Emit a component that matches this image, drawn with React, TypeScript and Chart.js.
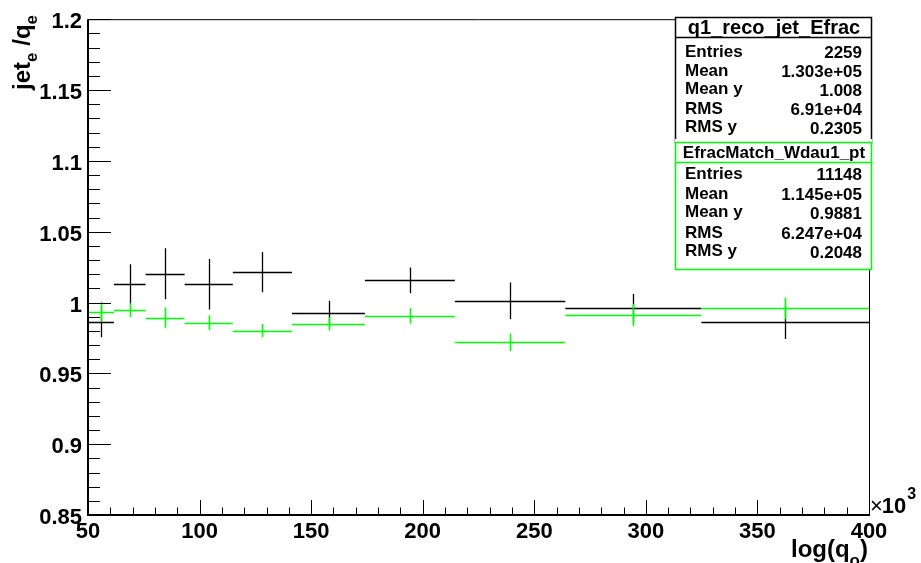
import React, { useEffect, useRef } from "react";
import { Chart, registerables } from "chart.js";

Chart.register(...registerables);

// ---- data ----
const binEdges = [50, 61.6, 75.8, 93.3, 114.9, 141.4, 174.1, 214.4, 263.9, 324.9, 400];
const binCenters = [55.8, 68.7, 84.6, 104.1, 128.2, 157.8, 194.3, 239.2, 294.4, 362.5];
const recoMean = [0.9865, 1.0129, 1.0203, 1.0129, 1.0215, 0.9928, 1.0157, 1.0012, 0.9958, 0.986];
const recoErr = [0.011, 0.0142, 0.018, 0.0179, 0.0142, 0.0084, 0.0091, 0.013, 0.0102, 0.0117];
const matchMean = [0.9935, 0.9947, 0.9893, 0.9858, 0.9802, 0.9849, 0.9905, 0.972, 0.9912, 0.9958];
const matchErr = [0.007, 0.0049, 0.0072, 0.0052, 0.0047, 0.0047, 0.0054, 0.0062, 0.008, 0.0077];

const xTickValues = [50, 100, 150, 200, 250, 300, 350, 400];
const xTickLabels = ["50", "100", "150", "200", "250", "300", "350", "400"];
const yTickValues = [0.85, 0.9, 0.95, 1, 1.05, 1.1, 1.15, 1.2];
const yTickLabels = ["0.85", "0.9", "0.95", "1", "1.05", "1.1", "1.15", "1.2"];

const statLabels = ["Entries", "Mean", "Mean y", "RMS", "RMS y"];
const recoName = "q1_reco_jet_Efrac";
const recoStats = ["2259", "1.303e+05", "1.008", "6.91e+04", "0.2305"];
const matchName = "EfracMatch_Wdau1_pt";
const matchStats = ["11148", "1.145e+05", "0.9881", "6.247e+04", "0.2048"];

const BLACK = "#000000";
const GREEN = "#00ff00";
const FONT = "'Liberation Sans', Arial, Helvetica, sans-serif";

const seriesErr = [recoErr, matchErr];

function drawCentered(ctx: CanvasRenderingContext2D, text: string, x: number, cy: number) {
  const m = ctx.measureText(text);
  const asc = m.actualBoundingBoxAscent;
  const desc = m.actualBoundingBoxDescent;
  ctx.fillText(text, x, cy + (asc - desc) / 2);
}

function drawStatsBox(
  ctx: CanvasRenderingContext2D,
  x0: number, y0: number, x1: number, y1: number, sepY: number,
  rowStart: number, rowStep: number, titleSize: number,
  color: string, title: string, labels: string[], values: string[]
) {
  ctx.save();
  ctx.fillStyle = "#ffffff";
  ctx.fillRect(x0, y0 - 3, x1 - x0 + 1, y1 - y0 + 4);
  ctx.strokeStyle = color;
  ctx.lineWidth = 1.5;
  ctx.strokeRect(x0 + 0.5, y0 + 0.5, x1 - x0, y1 - y0);
  ctx.beginPath();
  ctx.moveTo(x0, sepY + 0.5);
  ctx.lineTo(x1, sepY + 0.5);
  ctx.stroke();
  ctx.fillStyle = "#000";
  ctx.textBaseline = "alphabetic";
  ctx.textAlign = "center";
  ctx.font = `bold ${titleSize}px ${FONT}`;
  drawCentered(ctx, title, (x0 + x1) / 2 + 1, (y0 + sepY) / 2 + 1);
  ctx.font = `bold 17px ${FONT}`;
  for (let i = 0; i < labels.length; i++) {
    const cy = rowStart + rowStep * i;
    ctx.textAlign = "left";
    drawCentered(ctx, labels[i], x0 + 10, cy);
    ctx.textAlign = "right";
    drawCentered(ctx, values[i], x1 - 9, cy + 1);
  }
  ctx.restore();
}

const rootPlugin = {
  id: "rootStyle",
  afterDatasetsDraw(chart: any) {
    const ctx: CanvasRenderingContext2D = chart.ctx;
    const xs = chart.scales.x;
    const ys = chart.scales.y;
    chart.data.datasets.forEach((ds: any, di: number) => {
      const errs = seriesErr[di];
      ctx.save();
      ctx.strokeStyle = ds.borderColor;
      ctx.lineWidth = di === 0 ? 1.3 : 1.6;
      ds.data.forEach((p: any, i: number) => {
        const xl = xs.getPixelForValue(binEdges[i]);
        const xh = xs.getPixelForValue(binEdges[i + 1]);
        const xc = Math.round(xs.getPixelForValue(p.x)) + 0.5;
        const yc = Math.round(ys.getPixelForValue(p.y)) + 0.5;
        const yt = ys.getPixelForValue(p.y + errs[i]);
        const yb = ys.getPixelForValue(p.y - errs[i]);
        ctx.beginPath();
        ctx.moveTo(xl, yc);
        ctx.lineTo(xh, yc);
        ctx.moveTo(xc, yt);
        ctx.lineTo(xc, yb);
        ctx.stroke();
      });
      ctx.restore();
    });
  },
  afterDraw(chart: any) {
    const ctx: CanvasRenderingContext2D = chart.ctx;
    const { left, right, top, bottom } = chart.chartArea;
    const xs = chart.scales.x;
    const ys = chart.scales.y;
    ctx.save();
    ctx.strokeStyle = "#000";
    // frame
    ctx.lineWidth = 1;
    ctx.beginPath();
    ctx.moveTo(left, top + 0.5);
    ctx.lineTo(right, top + 0.5);
    ctx.moveTo(right + 0.5, top);
    ctx.lineTo(right + 0.5, bottom);
    ctx.stroke();
    ctx.lineWidth = 2;
    ctx.beginPath();
    ctx.moveTo(left, top);
    ctx.lineTo(left, bottom);
    ctx.lineTo(right + 1, bottom);
    ctx.stroke();
    // y ticks
    ctx.lineWidth = 1;
    ctx.beginPath();
    for (let k = 0; k <= 35; k++) {
      const v = 0.85 + k * 0.01;
      const py = Math.round(ys.getPixelForValue(v)) + 0.5;
      const len = k % 5 === 0 ? 23 : 12;
      ctx.moveTo(left, py);
      ctx.lineTo(left + len, py);
    }
    // x ticks
    for (let k = 0; k <= 35; k++) {
      const v = 50 + k * 10;
      const px = Math.round(xs.getPixelForValue(v)) + 0.5;
      const len = k % 5 === 0 ? 15 : 7.5;
      ctx.moveTo(px, bottom);
      ctx.lineTo(px, bottom - len);
    }
    ctx.stroke();

    const mainF = `bold 24px ${FONT}`;
    const subF = `bold 17px ${FONT}`;

    // y title: jet_e /q_e (rotated)
    ctx.fillStyle = "#000";
    ctx.save();
    ctx.translate(30, 15);
    ctx.rotate(-Math.PI / 2);
    const segs = [
      { t: "jet", sub: false },
      { t: "e", sub: true },
      { t: " /q", sub: false },
      { t: "e", sub: true },
    ];
    let total = 0;
    for (const s of segs) {
      ctx.font = s.sub ? subF : mainF;
      total += ctx.measureText(s.t).width;
    }
    let cx = -total;
    ctx.textAlign = "left";
    ctx.textBaseline = "alphabetic";
    for (const s of segs) {
      ctx.font = s.sub ? subF : mainF;
      ctx.fillText(s.t, cx, s.sub ? 7 : 0);
      cx += ctx.measureText(s.t).width;
    }
    ctx.restore();

    // x title: log(q_o)
    const xsegs = [
      { t: "log(q", sub: false },
      { t: "o", sub: true },
      { t: ")", sub: false },
    ];
    const xMainF = `bold 24px ${FONT}`;
    const xSubF = `bold 17px ${FONT}`;
    let xtotal = 0;
    for (const s of xsegs) {
      ctx.font = s.sub ? xSubF : xMainF;
      xtotal += ctx.measureText(s.t).width;
    }
    let xx = 868 - xtotal;
    ctx.textAlign = "left";
    for (const s of xsegs) {
      ctx.font = s.sub ? xSubF : xMainF;
      ctx.fillText(s.t, xx, s.sub ? 566 : 557);
      xx += ctx.measureText(s.t).width;
    }

    // x10^3
    ctx.font = `22px ${FONT}`;
    ctx.fillText("\u00d7", 870, 513);
    let ex = 870 + ctx.measureText("\u00d7").width - 1;
    ctx.font = `bold 22px ${FONT}`;
    ctx.fillText("10", ex, 513);
    ex += ctx.measureText("10").width;
    ctx.font = `bold 16px ${FONT}`;
    ctx.fillText("3", ex + 1, 499);

    // stats boxes
    drawStatsBox(ctx, 675, 17, 871, 142, 37, 51, 19, 20, BLACK, recoName, statLabels, recoStats);
    drawStatsBox(ctx, 675, 142, 871, 269, 162, 173, 19.5, 17, GREEN, matchName, statLabels, matchStats);
    ctx.restore();
  },
};

export default function App() {
  const ref = useRef<HTMLCanvasElement>(null);
  useEffect(() => {
    document.body.style.margin = "0";
    const canvas = ref.current!;
    const chart = new Chart(canvas, {
      type: "scatter",
      data: {
        datasets: [
          {
            label: recoName,
            data: binCenters.map((x, i) => ({ x, y: recoMean[i] })),
            borderColor: BLACK,
            backgroundColor: BLACK,
            pointRadius: 0,
            showLine: false,
          },
          {
            label: matchName,
            data: binCenters.map((x, i) => ({ x, y: matchMean[i] })),
            borderColor: GREEN,
            backgroundColor: GREEN,
            pointRadius: 0,
            showLine: false,
          },
        ],
      },
      options: {
        responsive: false,
        animation: false,
        events: [],
        layout: { padding: { left: 8, top: 15, right: 52, bottom: 0 } },
        plugins: { legend: { display: false }, tooltip: { enabled: false }, title: { display: false } },
        scales: {
          x: {
            type: "linear",
            min: 50,
            max: 400,
            grid: { display: false, drawTicks: false },
            border: { display: false },
            afterBuildTicks: (s: any) => {
              s.ticks = xTickValues.map((v) => ({ value: v }));
            },
            afterFit: (s: any) => {
              s.height = 48;
            },
            ticks: {
              padding: 4,
              color: "#000",
              maxRotation: 0,
              autoSkip: false,
              font: { family: FONT, size: 22, weight: "bold" },
              callback: (v: any) => {
                const i = xTickValues.indexOf(Number(v));
                return i >= 0 ? xTickLabels[i] : "";
              },
            },
          },
          y: {
            type: "linear",
            min: 0.85,
            max: 1.2,
            grid: { display: false, drawTicks: false },
            border: { display: false },
            afterBuildTicks: (s: any) => {
              s.ticks = yTickValues.map((v) => ({ value: v }));
            },
            afterFit: (s: any) => {
              s.width = 80;
            },
            ticks: {
              padding: 6,
              labelOffset: 3,
              color: "#000",
              autoSkip: false,
              font: { family: FONT, size: 22, weight: "bold" },
              callback: (v: any) => {
                let best = 0;
                for (let i = 0; i < yTickValues.length; i++) {
                  if (Math.abs(yTickValues[i] - Number(v)) < Math.abs(yTickValues[best] - Number(v))) best = i;
                }
                return yTickLabels[best];
              },
            },
          },
        },
      },
      plugins: [rootPlugin],
    } as any);
    return () => chart.destroy();
  }, []);
  return (
    <div style={{ width: 921, height: 563, position: "relative" }}>
      <canvas ref={ref} width={921} height={563} style={{ display: "block", width: 921, height: 563 }} />
    </div>
  );
}
